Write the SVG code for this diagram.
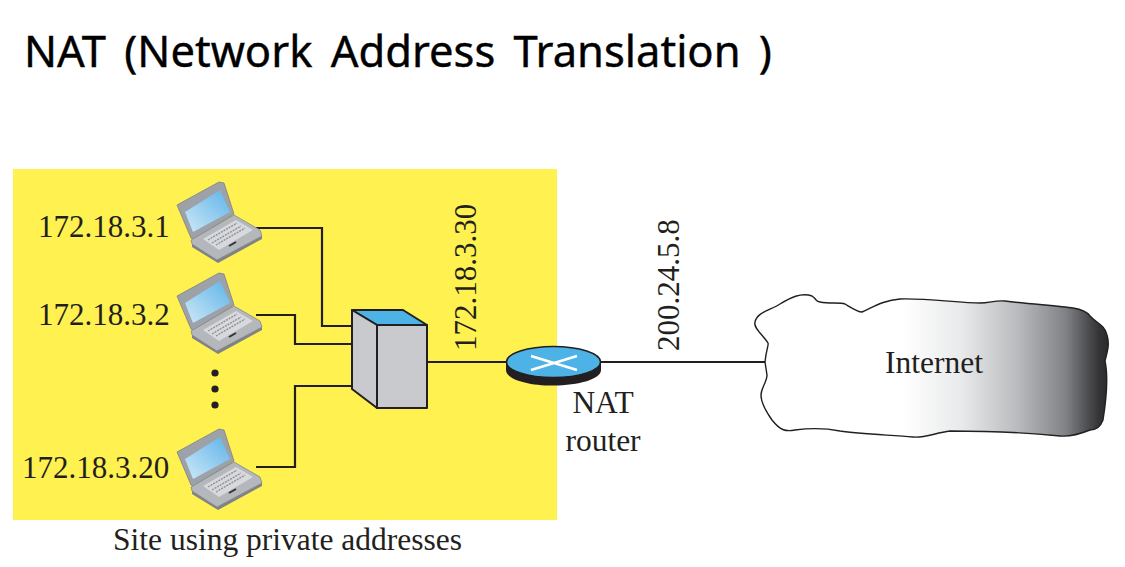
<svg xmlns="http://www.w3.org/2000/svg" xmlns:xlink="http://www.w3.org/1999/xlink" width="1125" height="567" viewBox="0 0 1125 567">
<style>
.t{font-family:"Liberation Serif","Times New Roman",serif;font-size:31.500px;fill:#231f20}
.n{font-size:31px}
.w{fill:none;stroke:#231f20;stroke-width:2.2}
.e{stroke:#231f20;stroke-width:2;stroke-linejoin:round}
</style>
<defs>
<linearGradient id="cg" x1="740" x2="1110" y1="0" y2="0" gradientUnits="userSpaceOnUse">
<stop offset="0.44" stop-color="#fff"/><stop offset="0.6" stop-color="#e8e9ea"/><stop offset="0.75" stop-color="#b9bbbe"/><stop offset="0.88" stop-color="#808285"/><stop offset="0.97" stop-color="#343436"/><stop offset="1" stop-color="#2a2a2c"/>
</linearGradient>
<linearGradient id="sg" x1="0" y1="1" x2="1" y2="0">
<stop offset="0" stop-color="#cfe8f8"/><stop offset="1" stop-color="#5db4e8"/>
</linearGradient>
<g id="lap">
<path d="M177 205L219 182L224 183L234 214L194 239L191 238Z" fill="#9da1a8" stroke="#7d8087" stroke-width="0.8"/>
<path d="M185 212L220 190L230 212L193 232Z" fill="url(#sg)"/>
<path d="M191 240L234 215L260 230L262 236L217 260L192 244Z" fill="#b4b7bc" stroke="#85888e" stroke-width="0.8"/>
<path d="M192 244L217 260L262 236L262 239L218 263L192 247Z" fill="#7f8288"/>
<path d="M203 239L236 220L253 230L219 250Z" fill="#d7d9dc"/>
<path d="M208 240L237 223M212 243L241 226M216 245L245 228" stroke="#8d9096" stroke-width="1.4" stroke-dasharray="2 1" fill="none"/>
<path d="M229 246L236 242" stroke="#333" stroke-width="2"/>
</g>
</defs>
<rect width="1125" height="567" fill="#fff"/>
<text id="title" x="24" y="67" font-family="'Noto Sans','Open Sans',sans-serif" font-size="43.500" fill="#000" stroke="#000" stroke-width="0.4" word-spacing="7">NAT (Network Address Translation )</text>
<rect id="site" x="13" y="169" width="544" height="351" fill="#fff14f"/>
<g id="connectors" class="w">
<path d="M256 228H322V326H352"/>
<path d="M256 315H295V344H352"/>
<path d="M256 467H295V386H352"/>
<path d="M428 362H506"/>
<path d="M600 362H765"/>
</g>
<g id="laptop1"><use href="#lap"/></g>
<g id="laptop2"><use href="#lap" y="91"/></g>
<g id="laptop3"><use href="#lap" y="247"/></g>
<g id="dots" fill="#231f20"><circle cx="215" cy="373" r="3.6"/><circle cx="215" cy="389" r="3.6"/><circle cx="215" cy="405" r="3.6"/></g>
<g id="switch" class="e">
<path d="M352 310H403L427 325H377Z" fill="#4db3e6"/>
<path d="M352 310L377 325V408L352 389Z" fill="#c8cacd"/>
<rect x="377" y="325" width="50" height="83" fill="#c8cacd"/>
</g>
<g id="router">
<path d="M506 362V370C506 379 527 385.500 553 385.500C579 385.500 601 379 601 370V362Z" fill="#231f20"/>
<ellipse cx="553.500" cy="362" rx="47" ry="15.500" fill="#4db3e6" stroke="#231f20" stroke-width="1.500"/>
<path d="M531 356L577 370M577 356L531 370" stroke="#fff" stroke-width="2.400" fill="none"/>
</g>
<g id="internet">
<path d="M765 362C766 350 769 345 768 343C763 335 753 328 755 322C757 312 771 310 780 304C790 298 801 292 812 296C818 300 815 302 820 302C830 304 840 302 845 304C855 310 858 312 862 312C875 306 885 300 900 299C925 298 960 303 980 303C990 303 995 300 1005 301C1030 304 1060 306 1073 308C1085 310 1088 313 1090 316C1095 322 1105 325 1107 335C1110 345 1107 352 1105 361C1108 375 1107 395 1103 420C1100 428 1095 430 1090 430C1080 434 1070 437 1060 436C1030 433 980 431 950 431C935 433 925 438 913 437C890 435 860 434 840 431C825 428 810 428 795 430C785 432 780 430 772 420C765 410 761 400 761 395C761 388 767 382 767 375Z" fill="url(#cg)" stroke="#231f20" stroke-width="1.400"/>
<text class="t" x="885" y="373">Internet</text>
</g>
<text class="t n" x="38" y="237">172.18.3.1</text>
<text class="t n" x="38" y="325">172.18.3.2</text>
<text class="t n" x="22" y="478">172.18.3.20</text>
<text class="t n" transform="translate(476 351) rotate(-90)">172.18.3.30</text>
<text class="t n" transform="translate(679 351) rotate(-90)">200.24.5.8</text>
<text class="t" x="603" y="413" text-anchor="middle">NAT</text>
<text class="t" x="603" y="451" text-anchor="middle">router</text>
<text class="t" x="113" y="550">Site using private addresses</text>
</svg>
